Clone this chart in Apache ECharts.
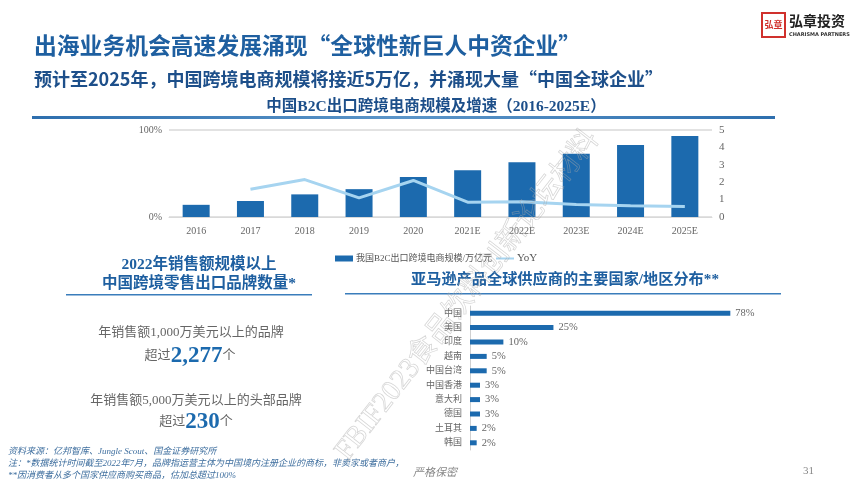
<!DOCTYPE html>
<html>
<head>
<meta charset="utf-8">
<script src="https://cdn.jsdelivr.net/npm/echarts@6/dist/echarts.min.js"></script>
<style>
  html, body { margin: 0; padding: 0; background: #fff; }
  #main { width: 865px; height: 484px; }
</style>
</head>
<body>
<div id="main"></div>
<script>
// 数据
var years = ['2016', '2017', '2018', '2019', '2020', '2021E', '2022E', '2023E', '2024E', '2025E'];
var scale = [0.7, 0.92, 1.3, 1.6, 2.3, 2.68, 3.14, 3.64, 4.14, 4.66];   // 万亿元
var yoy = [null, 32, 43, 22, 42, 17, 17.5, 14.5, 13, 12];               // %
var leftTicks = ['0%', '100%'];

var regions = ['中国', '美国', '印度', '越南', '中国台湾', '中国香港', '意大利', '德国', '土耳其', '韩国'];
var share = [78, 25, 10, 5, 5, 3, 3, 3, 2, 2];

var serif = '"Liberation Serif", "Noto Sans CJK SC", serif';
var cjk = '"Noto Sans CJK SC", sans-serif';
var blue = '#1c6aae';
var titleBlue = '#1e5fa0';
var gray = '#666';

var myChart = echarts.init(document.getElementById('main'));

var option = {
  animation: false,
  backgroundColor: '#fff',
  textStyle: { fontFamily: serif },
  title: [
    { text: '出海业务机会高速发展涌现“全球性新巨人中资企业”', left: 29, top: 29,
      textStyle: { fontSize: 22.8, fontWeight: 'bold', color: titleBlue, fontFamily: cjk } },
    { text: '预计至2025年，中国跨境电商规模将接近5万亿，并涌现大量“中国全球企业”', left: 29, top: 65,
      textStyle: { fontSize: 18, fontWeight: 'bold', color: '#1d4f8a', fontFamily: cjk } },
    { text: '中国B2C出口跨境电商规模及增速（2016-2025E）', left: 431, top: 94, textAlign: 'center',
      textStyle: { fontSize: 15.5, fontWeight: 'bold', color: '#1d4f8a', fontFamily: serif } },
    { text: '2022年销售额规模以上\n中国跨境零售出口品牌数量*', left: 194, top: 250, textAlign: 'center',
      textStyle: { fontSize: 15.5, fontWeight: 'bold', color: titleBlue, lineHeight: 19, fontFamily: serif } },
    { text: '亚马逊产品全球供应商的主要国家/地区分布**', left: 406, top: 267,
      textStyle: { fontSize: 15.2, fontWeight: 'bold', color: titleBlue, fontFamily: serif } }
  ],
  legend: {
    left: 330, top: 248, itemWidth: 18, itemHeight: 6, itemGap: 4,
    textStyle: { fontSize: 9, color: '#555', fontFamily: serif, padding: [0, 0, 0, -2] },
    data: [
      { name: '我国B2C出口跨境电商规模/万亿元', icon: 'rect' },
      { name: 'YoY', icon: 'path://M0,0h0.1v0.1h-0.1z M0,3.5h30v3h-30z M0,9.9h0.1v0.1h-0.1z',
        itemStyle: { color: '#a6d4f0' }, textStyle: { fontSize: 11 } }
    ]
  },
  grid: [
    { left: 169, top: 130, width: 543, height: 87 },
    { left: 470, top: 306, width: 267, height: 144 }
  ],
  xAxis: [
    { type: 'category', gridIndex: 0, data: years,
      axisLine: { lineStyle: { color: '#d9d9d9' } }, axisTick: { show: false },
      axisLabel: { color: gray, fontSize: 10, margin: 9, fontFamily: serif } },
    { type: 'value', gridIndex: 1, min: 0, max: 80, show: false }
  ],
  yAxis: [
    { type: 'value', gridIndex: 0, min: 0, max: 100, interval: 100,
      axisLine: { show: false }, axisTick: { show: false },
      axisLabel: { color: gray, fontSize: 10, margin: 7, fontFamily: serif,
        formatter: function (v) { return leftTicks[v / 100]; } },
      splitLine: { lineStyle: { color: '#d9d9d9', width: 1.5 } } },
    { type: 'value', gridIndex: 0, min: 0, max: 5, interval: 1, position: 'right',
      axisLine: { show: false }, axisTick: { show: false }, splitLine: { show: false },
      axisLabel: { color: gray, fontSize: 11, margin: 7, fontFamily: serif } },
    { type: 'category', gridIndex: 1, data: regions, inverse: true,
      axisLine: { lineStyle: { color: '#d0d0d0' } }, axisTick: { show: false },
      axisLabel: { color: gray, fontSize: 9, margin: 8, fontFamily: serif } }
  ],
  series: [
    { name: '我国B2C出口跨境电商规模/万亿元', type: 'bar', xAxisIndex: 0, yAxisIndex: 1,
      data: scale, barWidth: 27, itemStyle: { color: blue } },
    { name: 'YoY', type: 'line', xAxisIndex: 0, yAxisIndex: 0, data: yoy,
      showSymbol: false, lineStyle: { color: '#a6d4f0', width: 3 }, itemStyle: { color: '#a6d4f0' } },
    { name: 'share', type: 'bar', xAxisIndex: 1, yAxisIndex: 2, data: share, barWidth: 5,
      itemStyle: { color: blue },
      label: { show: true, position: 'right', distance: 5, color: gray, fontSize: 10.5, fontFamily: serif,
        formatter: '{c}%' } }
  ],
  graphic: [
    // 顶部分隔线
    { type: 'rect', shape: { x: 32, y: 116, width: 743, height: 3 },
      style: { fill: new echarts.graphic.LinearGradient(0, 0, 1, 0, [
        { offset: 0, color: '#2e6fae' }, { offset: 0.5, color: '#5b95c9' }, { offset: 1, color: '#2e6fae' }]) } },
    // 左侧标题下划线
    { type: 'rect', shape: { x: 66, y: 294, width: 246, height: 1.5 }, style: { fill: '#3a7dbb' } },
    // 右侧标题下划线
    { type: 'rect', shape: { x: 345, y: 293, width: 436, height: 1.5 }, style: { fill: '#3a7dbb' } },
    // 左侧文字
    { type: 'text', x: 191, y: 333, style: { text: '年销售额1,000万美元以上的品牌', align: 'center', verticalAlign: 'middle',
        fill: '#666', font: '13px ' + serif } },
    { type: 'text', x: 190, y: 356, style: { text: '超过{n|2,277}个', align: 'center', verticalAlign: 'middle',
        fill: '#666', font: '13px ' + serif,
        rich: { n: { fontSize: 23, fontWeight: 'bold', fill: blue, fontFamily: serif } } } },
    { type: 'text', x: 196, y: 401, style: { text: '年销售额5,000万美元以上的头部品牌', align: 'center', verticalAlign: 'middle',
        fill: '#666', font: '13px ' + serif } },
    { type: 'text', x: 196, y: 422, style: { text: '超过{n|230}个', align: 'center', verticalAlign: 'middle',
        fill: '#666', font: '13px ' + serif,
        rich: { n: { fontSize: 23, fontWeight: 'bold', fill: blue, fontFamily: serif } } } },
    // 脚注
    { type: 'text', x: 8, y: 447, style: { text: '资料来源：亿邦智库、Jungle Scout、国金证券研究所', fill: '#3f6f9f',
        font: 'italic 9px ' + serif } },
    { type: 'text', x: 8, y: 459, style: { text: '注：*数据统计时间截至2022年7月，品牌指运营主体为中国境内注册企业的商标，非卖家或者商户，', fill: '#3f6f9f',
        font: 'italic 9px ' + serif } },
    { type: 'text', x: 8, y: 471, style: { text: '**因消费者从多个国家供应商购买商品，估加总超过100%', fill: '#3f6f9f',
        font: 'italic 9px ' + serif } },
    { type: 'text', x: 413, y: 468, style: { text: '严格保密', fill: '#888', font: 'italic 11px ' + serif } },
    { type: 'text', x: 803, y: 466, style: { text: '31', fill: '#888', font: '11px ' + serif } },
    // logo
    { type: 'rect', shape: { x: 762, y: 13, width: 23, height: 24 }, style: { fill: '#fff', stroke: '#d0312d', lineWidth: 2 } },
    { type: 'text', x: 773.5, y: 25, style: { text: '弘章', align: 'center', verticalAlign: 'middle', fill: '#d0312d',
        font: 'bold 9px "Noto Sans CJK SC"' } },
    { type: 'text', x: 789, y: 14, style: { text: '弘章投资', fill: '#222', font: 'bold 14px "Noto Sans CJK SC"' } },
    { type: 'text', x: 789, y: 32, style: { text: 'CHARISMA PARTNERS', fill: '#333', font: 'bold 5px "DejaVu Sans"' } },
    // 水印
    { type: 'text', x: 330, y: 448, rotation: Math.PI * 52 / 180, z: 100,
      style: { text: 'FBIF2023食品饮料创新论坛材料', fill: 'rgba(255,255,255,0)', stroke: 'rgba(170,170,170,0.5)', lineWidth: 0.7,
        font: '29px ' + serif } }
  ]
};

myChart.setOption(option);
</script>
</body>
</html>
